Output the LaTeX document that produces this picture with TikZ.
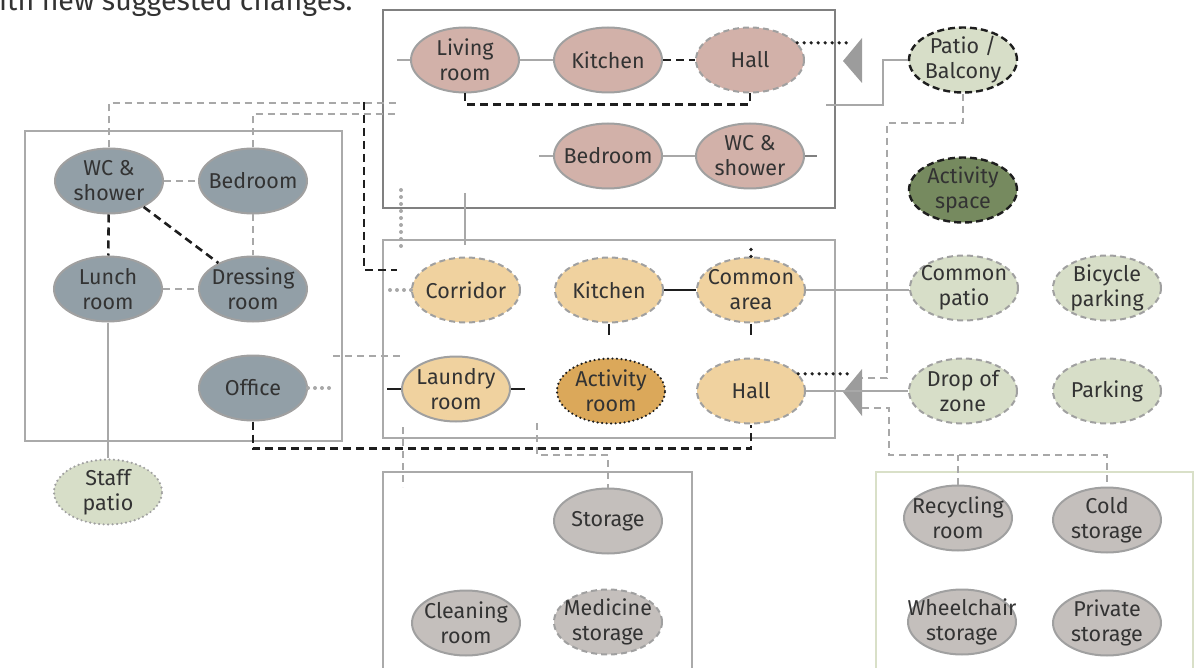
\documentclass[tikz,border=0pt]{standalone}
\usepackage{fontspec}
\setmainfont{Fira Sans}
\usetikzlibrary{shapes.geometric}

\definecolor{txt}{HTML}{333333}
\definecolor{rim}{HTML}{A0A0A0}
\definecolor{boxgray}{HTML}{AAAAAA}
\definecolor{boxdark}{HTML}{808080}
\definecolor{boxgreen}{HTML}{D9E0C8}
\definecolor{linkgray}{HTML}{A8A8A8}
\definecolor{ink}{HTML}{1E1E1E}
\definecolor{pinkroom}{HTML}{D2B1A9}
\definecolor{sandroom}{HTML}{F0D29F}
\definecolor{amberroom}{HTML}{DBA85A}
\definecolor{slateroom}{HTML}{929FA7}
\definecolor{sageroom}{HTML}{D7DEC8}
\definecolor{mossroom}{HTML}{768A5F}
\definecolor{stoneroom}{HTML}{C4BFBC}
\definecolor{wedge}{HTML}{9C9C9C}

\tikzset{
  room/.style={ellipse, minimum width=108pt, minimum height=65pt, inner sep=0pt,
               draw=rim, line width=2pt},
  rimdash/.style={dash pattern=on 6pt off 4pt},
  rimblack/.style={draw=ink, line width=2.4pt, dash pattern=on 7pt off 4pt},
  rimdot/.style={draw=ink, line width=2.4pt, line cap=round, dash pattern=on 0pt off 4.5pt},
  rimgraydot/.style={draw=rim, line width=2.4pt, line cap=round, dash pattern=on 0pt off 4.5pt},
  lbl/.style={align=center, text=txt, inner sep=0pt,
              font=\fontsize{21.5}{25}\selectfont},
  group/.style={line width=2.2pt, draw=boxgray},
  gline/.style={draw=linkgray, line width=2.2pt},
  kline/.style={draw=ink, line width=2.5pt},
  gdash/.style={draw=linkgray, line width=2.2pt, dash pattern=on 7pt off 5pt},
  kdash/.style={draw=ink, line width=2.6pt, dash pattern=on 8pt off 5pt},
  gdot/.style={draw=linkgray, line width=4pt, line cap=round, dash pattern=on 0pt off 7pt},
  kdot/.style={draw=ink, line width=3.6pt, line cap=round, dash pattern=on 0pt off 7pt},
}

\begin{document}
\begin{tikzpicture}[x=1pt, y=-1pt]
\useasboundingbox (0,0) rectangle (1204,668);

% caption line
\node[anchor=base west, inner sep=0pt, text=txt, font=\fontsize{28.5}{32}\selectfont]
  (caption) at (-1,11) {ith new suggested changes.};

% group frames
\draw[group, draw=boxdark, line width=2.5pt] (383,10) rectangle (835,208);
\draw[group] (383,240) rectangle (835,438);
\draw[group] (25,131) rectangle (342,441);
\draw[group] (383,472) rectangle (692,690);
\draw[group, draw=boxgreen] (876,472) rectangle (1193,690);

% apartment rooms
\node[room, fill=pinkroom, label={[lbl]center:Living\\room}] (lr) at (465,60) {};
\node[room, fill=pinkroom, label={[lbl]center:Kitchen}] (kt) at (608,60) {};
\node[room, rimdash, fill=pinkroom, label={[lbl]center:Hall}] (hl) at (750,60) {};
\node[room, fill=pinkroom, label={[lbl]center:Bedroom}] (bd) at (608,156) {};
\node[room, fill=pinkroom, label={[lbl]center:WC \&\\shower}] (wc) at (750,156) {};

% shared rooms
\node[room, rimdash, fill=sandroom, label={[lbl]center:Corridor}] (cor) at (466,290) {};
\node[room, rimdash, fill=sandroom, label={[lbl]center:Kitchen}] (kit) at (609,290) {};
\node[room, rimdash, fill=sandroom, label={[lbl]center:Common\\area}] (com) at (751,290) {};
\node[room, fill=sandroom, label={[lbl]center:Laundry\\room}] (lau) at (456,389) {};
\node[room, rimdot, fill=amberroom, label={[lbl]center:Activity\\room}] (act) at (611,391) {};
\node[room, rimdash, fill=sandroom, label={[lbl]center:Hall}] (hall) at (751,391) {};

% staff rooms
\node[room, fill=slateroom, label={[lbl]center:WC \&\\shower}] (swc) at (109,181) {};
\node[room, fill=slateroom, label={[lbl]center:Bedroom}] (sbd) at (253,181) {};
\node[room, fill=slateroom, label={[lbl]center:Lunch\\room}] (lun) at (108,289) {};
\node[room, fill=slateroom, label={[lbl]center:Dressing\\room}] (drs) at (253,289) {};
\node[room, fill=slateroom, label={[lbl]center:Office}] (off) at (253,388) {};
\node[room, rimgraydot, fill=sageroom, label={[lbl]center:Staff\\patio}] (stp) at (108,492) {};

% outdoor spaces
\node[room, rimblack, fill=sageroom, label={[lbl]center:Patio /\\Balcony}] (pat) at (963,60) {};
\node[room, rimblack, fill=mossroom, label={[lbl]center:Activity\\space}] (acs) at (963,190) {};
\node[room, rimdash, fill=sageroom, label={[lbl]center:Common\\patio}] (cpt) at (964,288) {};
\node[room, rimdash, fill=sageroom, label={[lbl]center:Bicycle\\parking}] (bic) at (1107,288) {};
\node[room, rimdash, fill=sageroom, label={[lbl]center:Drop of\\zone}] (drp) at (963,391) {};
\node[room, rimdash, fill=sageroom, label={[lbl]center:Parking}] (prk) at (1107,391) {};

% storage rooms
\node[room, fill=stoneroom, label={[lbl]center:Storage}] (sto) at (608,521) {};
\node[room, fill=stoneroom, label={[lbl]center:Cleaning\\room}] (cln) at (466,623) {};
\node[room, rimdash, fill=stoneroom, label={[lbl]center:Medicine\\storage}] (med) at (608,622) {};
\node[room, fill=stoneroom, label={[lbl]center:Recycling\\room}] (rec) at (958,518) {};
\node[room, fill=stoneroom, label={[lbl]center:Cold\\storage}] (cld) at (1107,520) {};
\node[room, fill=stoneroom, label={[lbl]center:Wheelchair\\storage}] (whl) at (962,622) {};
\node[room, fill=stoneroom, label={[lbl]center:Private\\storage}] (prv) at (1107,623) {};

% loose ends of connectors
\coordinate (aptin) at (826,105);
\coordinate (wcstub) at (397,103);
\coordinate (bdstub) at (397,114);
\coordinate (blkstart) at (364,102);
\coordinate (blkend) at (397,270);
\coordinate (dottop) at (401,190);
\coordinate (linktop) at (465,193);
\coordinate (sidestub) at (333,356);
\coordinate (patend) at (862,378);
\coordinate (patbend) at (887,378);
\coordinate (storestart) at (862,408);
\coordinate (storebend) at (889,455);
\coordinate (laundown) at (403,427);
\coordinate (actdown) at (537,423);

% entrance wedges
\fill[wedge] (843,61) -- (862,38) -- (862,83) -- cycle;
\fill[wedge] (843,392) -- (862,369) -- (862,416) -- cycle;

% apartment links
\draw[gline] (lr.west) -- ++(-13,0);
\draw[gline] (lr) -- (kt);
\draw[kdash] (kt) -- (hl);
\draw[kdash] (lr.south) -- ++(0,11) -| (hl.south);
\draw[kdot] (hl.20) -- ++(51,0);
\draw[gline] (pat.west) -- ++(-25,0) |- (aptin);
\draw[gline] (bd.west) -- ++(-14,0);
\draw[gline] (bd) -- (wc);
\draw[draw=boxdark, line width=2.2pt] (wc.east) -- ++(12,0);

% links from staff rooms
\draw[gdash] (swc.north) |- (wcstub);
\draw[gdash] (sbd.north) |- (bdstub);
\draw[kdash] (blkstart) |- (blkend);
\draw[gdot] (dottop) -- ++(0,57);
\draw[gline] (linktop) -- ++(0,52);
\draw[gdash] (swc) -- (sbd);
\draw[kdash] (swc) -- (lun);
\draw[kdash] (swc) -- (drs);
\draw[gdash] (sbd) -- (drs);
\draw[gdash] (lun) -- (drs);
\draw[gline] (lun) -- (stp);
\draw[gdot] (off.east) -- ++(25,0);
\draw[kdash] (off.south) -- ++(0,27) -| (hall.south);
\draw[gdash] (sidestub) -- ++(69,0);

% shared-room links
\draw[gdot] (cor.west) -- ++(-24,0);
\draw[kline] (kit) -- (com);
\draw[kline] (kit.south) -- ++(0,11);
\draw[kline] (com.south) -- ++(0,11);
\draw[kdot] (com.north) -- ++(0,-11);
\draw[gline] (com.east) -- (cpt.west |- com.east);
\draw[kline] (lau.west) -- ++(-14,0);
\draw[kline] (lau.east) -- ++(14,0);
\draw[kdot] (hall.20) -- ++(51,0);
\draw[gline] (drp) -- (hall);
\draw[gdash] (laundown) -- ++(0,60);
\draw[gdash] (actdown) -- ++(0,32) -| (sto.north);

% outdoor and storage links
\draw[gdash] (pat.south) -- ++(0,29) -| (patbend) -- (patend);
\draw[gdash] (storestart) -| (storebend) -| (cld.north);
\draw[gdash] (rec.north) -- (rec.north |- storebend);
\end{tikzpicture}
\end{document}
